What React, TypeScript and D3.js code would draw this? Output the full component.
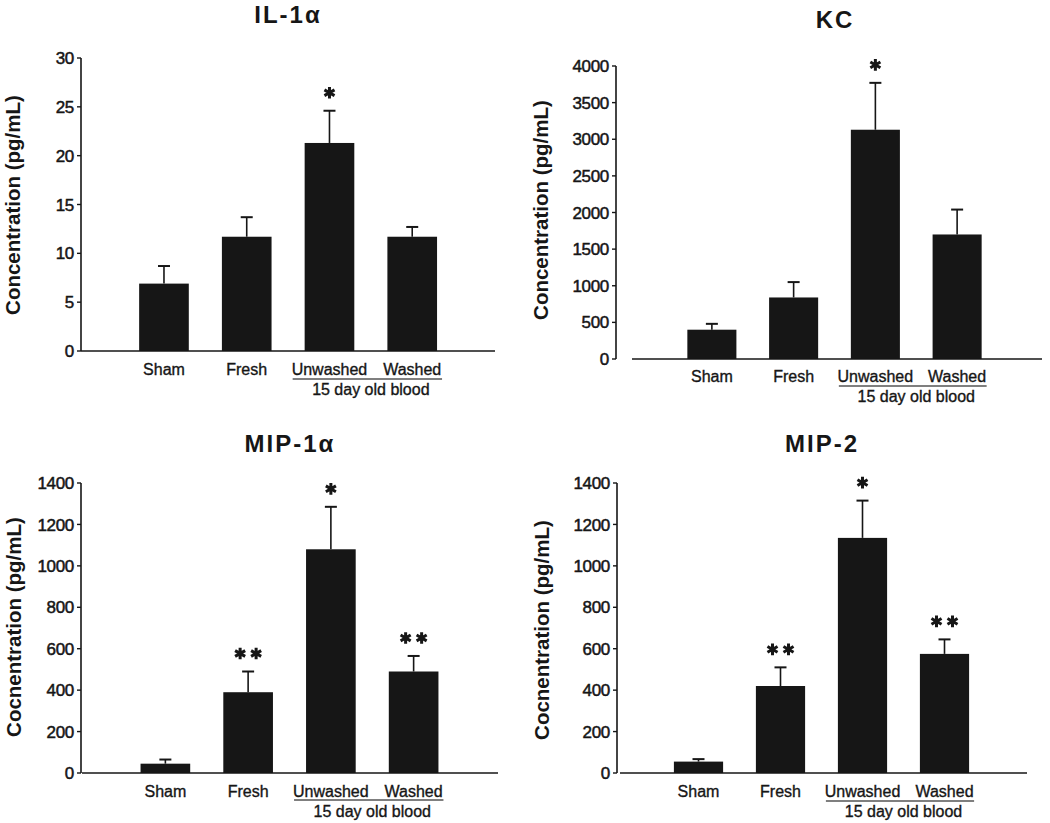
import React from "react";
import * as d3 from "d3";

// ---------- data ----------
const categories = ["Sham", "Fresh", "Unwashed", "Washed"];

const il1aMeans = [6.9, 11.7, 21.3, 11.7];
const il1aErrors = [1.8, 2.0, 3.3, 1.0];
const il1aStars = ["", "", "*", ""];
const il1aTicks = [0, 5, 10, 15, 20, 25, 30];

const kcMeans = [400, 840, 3130, 1700];
const kcErrors = [80, 210, 640, 340];
const kcStars = ["", "", "*", ""];
const kcTicks = [0, 500, 1000, 1500, 2000, 2500, 3000, 3500, 4000];

const mip1aMeans = [45, 390, 1080, 490];
const mip1aErrors = [20, 100, 205, 75];
const mip1aStars = ["", "**", "*", "**"];
const mip1aTicks = [0, 200, 400, 600, 800, 1000, 1200, 1400];

const mip2Means = [55, 420, 1135, 575];
const mip2Errors = [12, 90, 180, 70];
const mip2Stars = ["", "**", "*", "**"];
const mip2Ticks = [0, 200, 400, 600, 800, 1000, 1200, 1400];

const groupLabel = "15 day old blood";

// ---------- layout ----------
type Layout = {
  axisX: number; yTop: number; yBottom: number;
  xAxisStart: number; xAxisEnd: number;
  bandStart: number; bandEnd: number;
  titleX: number; titleY: number; titleSize: number;
  yLabelX: number; yLabelY: number;
  catY: number; underlineY: number; groupY: number;
};

const FONT = "'Liberation Sans', Arial, Helvetica, sans-serif";
const INK = "#161616";

type PanelProps = {
  title: string;
  yLabel: string;
  means: number[];
  errors: number[];
  stars: string[];
  ticks: number[];
  L: Layout;
};

function Panel({ title, yLabel, means, errors, stars, ticks, L }: PanelProps) {
  const yMax = ticks[ticks.length - 1];
  const y = d3.scaleLinear().domain([0, yMax]).range([L.yBottom, L.yTop]);
  const x = d3
    .scaleBand<string>()
    .domain(categories)
    .range([L.bandStart, L.bandEnd])
    .paddingInner(0.4)
    .paddingOuter(0.2);
  const bw = x.bandwidth();
  const star = d3.symbol().type(d3.symbolAsterisk).size(95)() as string;

  const uStart = (x("Unwashed") as number) - 12;
  const uEnd = (x("Washed") as number) + bw + 5;
  const groupCx =
    ((x("Unwashed") as number) + (x("Washed") as number) + bw) / 2;

  return (
    <g>
      <text
        x={L.titleX}
        y={L.titleY}
        textAnchor="middle"
        fontFamily={FONT}
        fontWeight="bold"
        fontSize={L.titleSize}
        letterSpacing={2}
        fill={INK}
      >
        {title}
      </text>
      <text
        transform={`translate(${L.yLabelX},${L.yLabelY}) rotate(-90)`}
        textAnchor="middle"
        fontFamily={FONT}
        fontWeight="bold"
        fontSize={20.5}
        fill={INK}
      >
        {yLabel}
      </text>
      {/* y axis */}
      <line x1={L.axisX} x2={L.axisX} y1={L.yTop} y2={L.yBottom} stroke={INK} strokeWidth={1.6} />
      {ticks.map((t) => (
        <g key={t}>
          <line x1={L.axisX - 4} x2={L.axisX} y1={y(t)} y2={y(t)} stroke={INK} strokeWidth={1.4} />
          <text
            x={L.axisX - 7}
            y={y(t)}
            dy="0.36em"
            textAnchor="end"
            fontFamily={FONT}
            fontSize={17}
            letterSpacing={-0.3}
            fill={INK}
            stroke={INK}
            strokeWidth={0.5}
          >
            {t}
          </text>
        </g>
      ))}
      {/* bars */}
      {categories.map((c, i) => {
        const bx = x(c) as number;
        const cx = bx + bw / 2;
        const top = y(means[i]);
        const et = y(means[i] + errors[i]);
        return (
          <g key={c}>
            <rect x={bx} y={top} width={bw} height={L.yBottom - top} fill={INK} />
            <line x1={cx} x2={cx} y1={top} y2={et} stroke={INK} strokeWidth={1.6} />
            <line x1={cx - 6} x2={cx + 6} y1={et} y2={et} stroke={INK} strokeWidth={2} />
            {stars[i].split("").map((_, k, arr) => {
              const off = (k - (arr.length - 1) / 2) * 16;
              return (
                <path
                  key={k}
                  d={star}
                  transform={`translate(${cx + off},${et - 18})`}
                  fill="none"
                  stroke={INK}
                  strokeWidth={3}
                />
              );
            })}
          </g>
        );
      })}
      {/* x axis */}
      <line x1={L.xAxisStart} x2={L.xAxisEnd} y1={L.yBottom} y2={L.yBottom} stroke={INK} strokeWidth={1.6} />
      {categories.map((c) => (
        <text
          key={c}
          x={(x(c) as number) + bw / 2}
          y={L.catY}
          textAnchor="middle"
          fontFamily={FONT}
          fontSize={16}
          fill={INK}
          stroke={INK}
          strokeWidth={0.35}
        >
          {c}
        </text>
      ))}
      <line x1={uStart} x2={uEnd} y1={L.underlineY} y2={L.underlineY} stroke="#555" strokeWidth={1.4} />
      <text
        x={groupCx}
        y={L.groupY}
        textAnchor="middle"
        fontFamily={FONT}
        fontSize={16}
        fill={INK}
        stroke={INK}
        strokeWidth={0.35}
      >
        {groupLabel}
      </text>
    </g>
  );
}

const L1: Layout = {
  axisX: 81, yTop: 58, yBottom: 351, xAxisStart: 81, xAxisEnd: 495,
  bandStart: 122.6, bandEnd: 453.6, titleX: 288, titleY: 23, titleSize: 24,
  yLabelX: 20, yLabelY: 205, catY: 375, underlineY: 379, groupY: 395,
};
const L2: Layout = {
  axisX: 616, yTop: 66, yBottom: 359, xAxisStart: 632, xAxisEnd: 1042,
  bandStart: 671, bandEnd: 998, titleX: 835, titleY: 28, titleSize: 24,
  yLabelX: 548, yLabelY: 210, catY: 382, underlineY: 386, groupY: 402,
};
const L3: Layout = {
  axisX: 81, yTop: 483, yBottom: 773, xAxisStart: 82, xAxisEnd: 498,
  bandStart: 124, bandEnd: 455, titleX: 290, titleY: 452, titleSize: 24,
  yLabelX: 21, yLabelY: 627, catY: 797, underlineY: 800, groupY: 817,
};
const L4: Layout = {
  axisX: 617, yTop: 483, yBottom: 773, xAxisStart: 620, xAxisEnd: 1027,
  bandStart: 657.5, bandEnd: 985.5, titleX: 822, titleY: 452, titleSize: 24,
  yLabelX: 549, yLabelY: 630, catY: 797, underlineY: 801, groupY: 817,
};

export default function App() {
  return (
    <svg
      width={1050}
      height={823}
      viewBox="0 0 1050 823"
      style={{ position: "absolute", left: 0, top: 0, background: "#fff" }}
    >
      <rect width={1050} height={823} fill="#fff" />
      <Panel title="IL-1α" yLabel="Concentration (pg/mL)" means={il1aMeans} errors={il1aErrors} stars={il1aStars} ticks={il1aTicks} L={L1} />
      <Panel title="KC" yLabel="Concentration (pg/mL)" means={kcMeans} errors={kcErrors} stars={kcStars} ticks={kcTicks} L={L2} />
      <Panel title="MIP-1α" yLabel="Cocnentration (pg/mL)" means={mip1aMeans} errors={mip1aErrors} stars={mip1aStars} ticks={mip1aTicks} L={L3} />
      <Panel title="MIP-2" yLabel="Cocnentration (pg/mL)" means={mip2Means} errors={mip2Errors} stars={mip2Stars} ticks={mip2Ticks} L={L4} />
    </svg>
  );
}
